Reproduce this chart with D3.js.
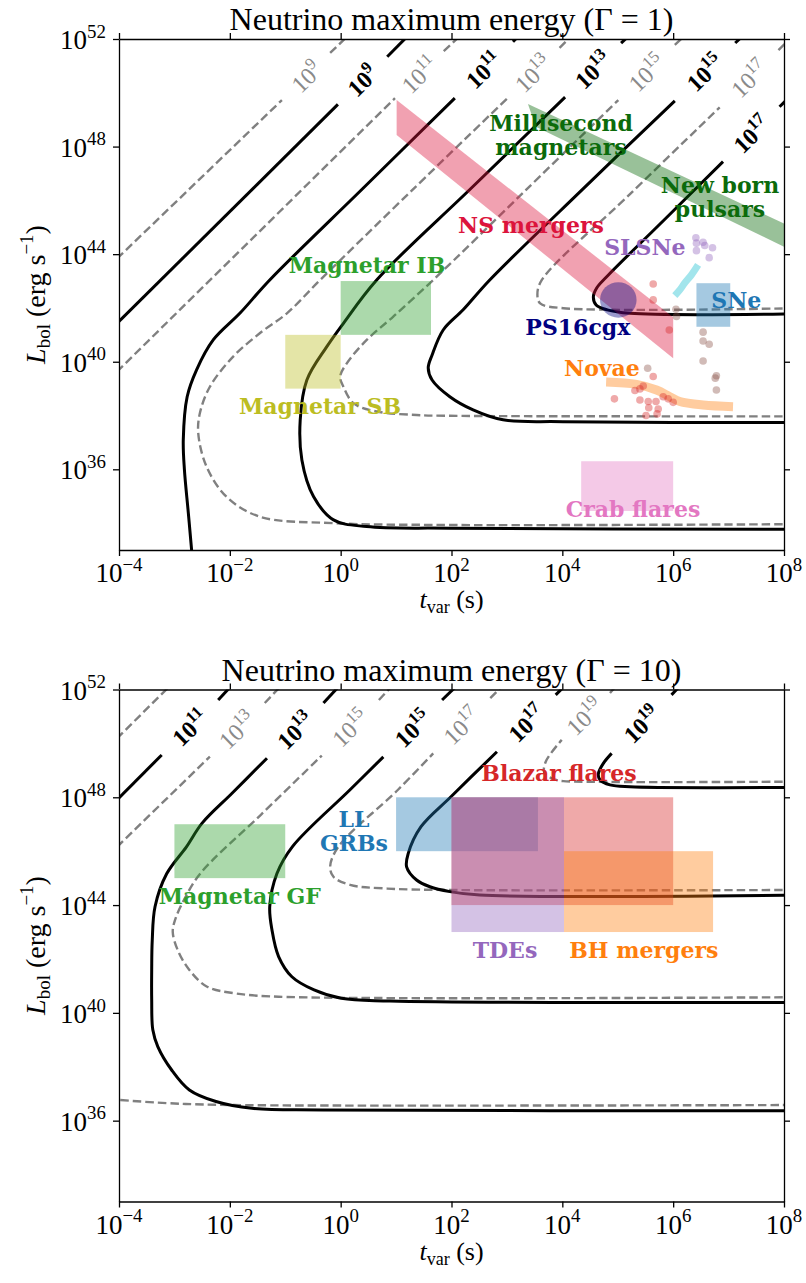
<!DOCTYPE html>
<meta charset="utf-8">
<script src="https://d3js.org/d3.v7.min.js"></script>
<style>
body { margin: 0; background: #fff; }
svg text { font-family: "Liberation Serif", "Times New Roman", serif; }
.region { font-family: "DejaVu Serif", serif; font-weight: bold; font-size: 22px; }
</style>
<div id="chart"></div>
<script>

// ---------- contour lines, points are [log10 t_var, log10 L_bol] ----------
// each contour is a list of segments (gaps are where the inline labels sit)

// panel 1 : Gamma = 1
var c1_gray9   = [[[-4.2, 43.51], [-1.06, 49.73]], [[-0.19, 51.48], [0.22, 52.3]]];
var c1_black9  = [[[-4.2, 41.09], [-0.05, 49.57]], [[0.84, 51.34], [1.3, 52.3]]];
var c1_gray11  = [[[-4.2, 39.3], [0.98, 49.8]], [[1.86, 51.55], [2.3, 52.4]]];
var c1_black11 = [[[-2.67, 32.5], [-2.69, 33], [-2.75, 34.4], [-2.82, 36], [-2.84, 37.1], [-2.77, 38.7], [-2.6, 39.7],
                   [-2.3, 40.81], [-1.82, 41.8], [-1.28, 43.04], [0.4, 46.44], [2.06, 49.8]],
                  [[3.11, 51.9], [3.35, 52.4]]];
var c1_gray13  = [[[8.2, 33.96], [1.97, 33.93], [-0.14, 34.0], [-1.46, 34.24], [-2.06, 34.98], [-2.42, 36.1],
                   [-2.57, 37.34], [-2.54, 38.09], [-2.36, 39.07], [-1.94, 40.19], [-1.46, 41.06], [-0.97, 41.8],
                   [-0.37, 43.04], [1.3, 46.4], [3.0, 49.78]],
                  [[3.95, 51.67], [4.3, 52.4]]];
var c1_black13 = [[[8.2, 33.77], [1.97, 33.81], [0.47, 33.87], [-0.13, 34.12], [-0.49, 34.99], [-0.7, 36.35],
                   [-0.73, 37.84], [-0.61, 39.32], [-0.25, 40.56], [0.05, 41.43], [0.65, 43.04], [2.35, 46.44], [4.05, 49.84]],
                  [[5.06, 51.85], [5.35, 52.4]]];
var c1_gray15  = [[[8.2, 37.97], [1.97, 37.99], [1.37, 38.02], [0.65, 38.15], [0.23, 38.46], [0.05, 39.07],
                   [-0.01, 39.45], [0.11, 39.94], [0.47, 40.81], [0.95, 41.68], [1.67, 43.04], [3.35, 46.4], [5.01, 49.73]],
                  [[6.03, 51.78], [6.35, 52.4]]];
var c1_black15 = [[[8.2, 37.74], [4.01, 37.77], [2.93, 37.84], [2.39, 38.21], [1.97, 38.7], [1.65, 39.32],
                   [1.58, 39.77], [1.65, 40.25], [1.85, 41.18], [2.21, 41.93], [2.69, 43.04], [4.36, 46.4], [6.03, 49.7]],
                  [[7.12, 51.85], [7.4, 52.4]]];
var c1_gray17  = [[[8.2, 41.99], [4.02, 41.99], [3.6, 42.17], [3.55, 42.5], [3.63, 43.04], [5.23, 46.25], [6.84, 49.46]],
                  [[7.9, 51.59], [8.2, 52.2]]];
var c1_black17 = [[[8.2, 41.78], [5.22, 41.8], [4.81, 41.93], [4.61, 42.11], [4.56, 42.41], [4.62, 42.74],
                   [4.8, 43.16], [5.85, 45.3], [6.9, 47.44]],
                  [[7.92, 49.48], [8.2, 50.05]]];

// inline labels: [exponent, gray?, log t, log L]
var c1_labels = [[9, 1, -0.62, 50.6], [9, 0, 0.39, 50.46], [11, 1, 1.42, 50.68], [11, 0, 2.58, 50.85],
                 [13, 1, 3.47, 50.72], [13, 0, 4.55, 50.85], [15, 1, 5.52, 50.75], [15, 0, 6.57, 50.76],
                 [17, 1, 7.37, 50.53], [17, 0, 7.41, 48.46]];

// panel 2 : Gamma = 10
var c2_gray11  = [[[-4.2, 49.85], [-3.0, 52.3]]];
var c2_black11 = [[[-4.2, 47.57], [-3.23, 49.57]], [[-2.21, 51.61], [-1.9, 52.3]]];
var c2_gray13  = [[[-4.2, 45.83], [-2.36, 49.51]], [[-1.37, 51.5], [-1.0, 52.3]],
                  [[-4.2, 36.8], [-3.13, 36.65], [-1.92, 36.58], [8.2, 36.58]]];
var c2_black13 = [[[8.2, 36.37], [-0.32, 36.4], [-1.6, 36.46], [-2.25, 36.71], [-2.73, 37.14], [-3.05, 37.88],
                   [-3.3, 38.75], [-3.39, 39.37], [-3.41, 40.48], [-3.41, 41.6], [-3.4, 42.7], [-3.35, 43.94],
                   [-3.14, 45.16], [-2.78, 46.17], [-2.5, 47.04], [-1.96, 48.15], [-1.33, 49.45]],
                  [[-0.31, 51.5], [0.05, 52.3]]];
var c2_gray15  = [[[8.2, 40.58], [-1.12, 40.6], [-1.92, 40.73], [-2.41, 40.97], [-2.73, 41.59], [-2.94, 42.33],
                   [-3.03, 43.0], [-2.98, 43.5], [-2.8, 44.3], [-2.53, 45.18], [-1.44, 47.35], [-0.34, 49.55]],
                  [[0.69, 51.61], [1.0, 52.3]]];
var c2_black15 = [[[8.2, 40.39], [0.89, 40.44], [0.01, 40.54], [-0.48, 40.85], [-0.88, 41.34], [-1.12, 42.09],
                   [-1.24, 43.08], [-1.28, 43.94], [-1.15, 45.17], [-0.87, 46.17], [0.16, 48.26], [0.77, 49.5]],
                  [[1.83, 51.61], [2.2, 52.35]]];
var c2_gray17  = [[[8.2, 44.56], [1.97, 44.56], [0.77, 44.62], [0.17, 44.75], [-0.13, 45.05], [-0.19, 45.43],
                   [-0.04, 46.17], [1.03, 48.27], [1.67, 49.63]],
                  [[2.7, 51.68], [3.0, 52.3]]];
var c2_black17 = [[[8.2, 44.37], [2.51, 44.37], [1.97, 44.5], [1.61, 44.68], [1.37, 44.93], [1.19, 45.42],
                   [1.22, 45.92], [1.45, 46.91], [1.99, 48.02], [2.82, 49.69]],
                  [[3.88, 51.8], [4.15, 52.35]]];
var c2_gray19  = [[[8.2, 48.58], [4.02, 48.6], [3.9, 48.64], [3.68, 48.89], [3.7, 49.32], [3.99, 50.13]],
                  [[4.86, 51.87], [5.0, 52.2]]];
var c2_black19 = [[[8.2, 48.37], [5.22, 48.39], [4.86, 48.46], [4.68, 48.64], [4.65, 48.87], [4.74, 49.26], [4.89, 49.63]],
                  [[5.97, 51.8], [6.2, 52.3]]];

var c2_labels = [[11, 0, -2.72, 50.59], [13, 1, -1.87, 50.5], [13, 0, -0.82, 50.48], [15, 1, 0.17, 50.58],
                 [15, 0, 1.3, 50.56], [17, 1, 2.18, 50.66], [17, 0, 3.35, 50.75], [19, 1, 4.4, 51.0],
                 [19, 0, 5.43, 50.72]];

// ---------- sources ----------
// boxes: [t0, t1, L0, L1] in log10
var box_magIB   = [0, 1.63, 41, 43];
var box_magSB   = [-1, 0, 39, 41];
var box_crab    = [4.34, 6, 34.45, 36.3];
var box_sne     = [6.42, 7.03, 41.3, 42.92];
var box_magGF   = [-3, -1, 45, 47];
var box_llgrb   = [1, 3.56, 46, 48];
var box_blazar  = [2, 6, 44, 48];
var box_tde     = [2, 4.03, 43, 48];
var box_bhm     = [4.03, 6.72, 43, 46];

// bands (polygons)
var band_nsm    = [[1.01, 49.73], [6.0, 41.65], [6.0, 40.13], [1.01, 48.43]];
var band_msm    = [[3.38, 49.58], [8.3, 44.85], [8.3, 43.98], [3.52, 48.74]];
// thick curves
var curve_slsne = [[6.03, 42.46], [6.12, 42.67], [6.21, 42.93], [6.33, 43.23], [6.45, 43.6]];
var curve_novae = [[4.79, 39.25], [5.34, 39.16], [5.7, 38.95], [5.94, 38.7], [6.12, 38.52], [6.54, 38.39], [7.08, 38.33]];
// PS16cgx ellipse: centre and half widths (decades)
var ell_ps16    = [5.01, 42.3, 0.33, 0.66];
// dots
var dots_slsne  = [[6.41, 44.61], [6.42, 44.41], [6.54, 44.44], [6.57, 44.32], [6.71, 44.24], [6.42, 44.13], [6.65, 43.87]];
var dots_red    = [[5.64, 42.89], [5.64, 42.3], [5.93, 41.18], [5.64, 39.45], [5.31, 38.93], [5.4, 38.99], [5.46, 39.1],
                   [4.94, 38.62], [5.4, 38.58], [5.55, 38.52], [5.69, 38.52], [5.82, 38.7], [5.91, 38.62], [6.0, 38.49],
                   [5.56, 38.29], [5.73, 38.24], [5.51, 38.0], [5.71, 38.06]];
var dots_brown  = [[5.54, 39.76], [6.05, 41.95], [6.06, 41.68], [6.54, 41.1], [6.54, 40.77], [6.65, 40.65],
                   [6.54, 40.03], [6.78, 39.48], [6.76, 39.39], [6.78, 38.95]];

// text labels: [lines, log t, log L (first baseline), colour, anchor]
var txt1 = [[["Millisecond", "magnetars"], 3.976, 48.58, "#0b6b0b", "middle"],
            [["New born", "pulsars"], 6.845, 46.26, "#0b6b0b", "middle"],
            [["NS mergers"], 3.434, 44.79, "#dc143c", "middle"],
            [["SLSNe"], 5.49, 43.97, "#9467bd", "middle"],
            [["Magnetar IB"], 0.475, 43.3, "#2ca02c", "middle"],
            [["SNe"], 6.688, 42.0, "#1f77b4", "start"],
            [["PS16cgx"], 4.28, 41.0, "#000080", "middle"],
            [["Novae"], 4.715, 39.47, "#ff7f0e", "middle"],
            [["Magnetar SB"], -0.373, 38.06, "#bcbd22", "middle"],
            [["Crab flares"], 5.275, 34.24, "#e377c2", "middle"]];
var txt2 = [[["Blazar flares"], 3.94, 48.6, "#d62728", "middle"],
            [["LL", "GRBs"], 0.24, 46.91, "#1f77b4", "middle"],
            [["Magnetar GF"], -1.82, 44.04, "#2ca02c", "middle"],
            [["TDEs"], 2.965, 42.04, "#9467bd", "middle"],
            [["BH mergers"], 5.47, 42.04, "#ff7f0e", "middle"]];

var xTicks = [-4, -2, 0, 2, 4, 6, 8];
var yTicks = [36, 40, 44, 48, 52];

// ---------- drawing ----------
var svg = d3.select("#chart").append("svg").attr("width", 806).attr("height", 1283);

var x = d3.scaleLog().domain([1e-4, 1e8]).range([119, 784]);
function tx(p) { return x(Math.pow(10, p)); }

function power(sel, exp, size) {
  sel.append("tspan").text("10");
  sel.append("tspan").attr("font-size", size * 0.7).attr("dy", -size * 0.42)
    .text(exp < 0 ? "\u2212" + (-exp) : exp);
}

function drawPanel(top, bottom, title, contours, labels, id) {
  var y = d3.scaleLog().domain([1e33, 1e52]).range([bottom, top]);
  function ty(p) { return y(Math.pow(10, p)); }

  svg.append("clipPath").attr("id", id).append("rect")
    .attr("x", 119).attr("y", top).attr("width", 665).attr("height", bottom - top);
  var g = svg.append("g").attr("clip-path", "url(#" + id + ")");

  var line = d3.line().x(function (d) { return tx(d[0]); }).y(function (d) { return ty(d[1]); })
    .curve(d3.curveCatmullRom.alpha(0.5));

  contours.forEach(function (c) {
    c[0].forEach(function (s) {
      g.append("path").attr("d", line(s)).attr("fill", "none")
        .attr("stroke", c[1] ? "#808080" : "#000")
        .attr("stroke-width", c[1] ? 2.4 : 3)
        .attr("stroke-dasharray", c[1] ? "8.5,4" : null);
    });
  });

  labels.forEach(function (l) {
    var t = g.append("text")
      .attr("transform", "translate(" + tx(l[2]) + "," + ty(l[3]) + ") rotate(-44)")
      .attr("y", 9).attr("text-anchor", "middle").attr("font-size", 24)
      .attr("fill", l[1] ? "#8a8a8a" : "#000")
      .attr("font-weight", l[1] ? "normal" : "bold");
    power(t, l[0], 24);
  });

  // axes frame and ticks
  var xa = svg.append("g").attr("transform", "translate(0," + bottom + ")")
    .call(d3.axisBottom(x).tickValues(xTicks.map(function (p) { return Math.pow(10, p); })).tickSize(6).tickSizeOuter(0).tickFormat(""));
  var xt = svg.append("g").attr("transform", "translate(0," + top + ")")
    .call(d3.axisTop(x).tickValues(xTicks.map(function (p) { return Math.pow(10, p); })).tickSize(6).tickSizeOuter(0).tickFormat(""));
  var ya = svg.append("g").attr("transform", "translate(119,0)")
    .call(d3.axisLeft(y).tickValues(yTicks.map(function (p) { return Math.pow(10, p); })).tickSize(6).tickSizeOuter(0).tickFormat(""));
  var yr = svg.append("g").attr("transform", "translate(784,0)")
    .call(d3.axisRight(y).tickValues(yTicks.map(function (p) { return Math.pow(10, p); })).tickSize(6).tickSizeOuter(0).tickFormat(""));
  [xa, xt, ya, yr].forEach(function (a) {
    a.selectAll("path, line").attr("stroke", "#000").attr("stroke-width", 1.3);
  });

  xTicks.forEach(function (p) {
    var t = svg.append("text").attr("x", tx(p)).attr("y", bottom + 32)
      .attr("text-anchor", "middle").attr("font-size", 27);
    power(t, p, 27);
  });
  yTicks.forEach(function (p) {
    var t = svg.append("text").attr("x", 106).attr("y", ty(p) + 10)
      .attr("text-anchor", "end").attr("font-size", 27);
    power(t, p, 27);
  });

  // axis titles
  var xl = svg.append("text").attr("x", 451.5).attr("y", bottom + 58)
    .attr("text-anchor", "middle").attr("font-size", 26);
  xl.append("tspan").attr("font-style", "italic").text("t");
  xl.append("tspan").attr("font-size", 18).attr("dy", 5).text("var");
  xl.append("tspan").attr("dy", -5).text(" (s)");

  var yl = svg.append("text")
    .attr("transform", "translate(45," + ((top + bottom) / 2) + ") rotate(-90)")
    .attr("text-anchor", "middle").attr("font-size", 28);
  yl.append("tspan").attr("font-style", "italic").text("L");
  yl.append("tspan").attr("font-size", 19).attr("dy", 5).text("bol");
  yl.append("tspan").attr("dy", -5).text(" (erg s");
  yl.append("tspan").attr("font-size", 19).attr("dy", -12).text("\u22121");
  yl.append("tspan").attr("dy", 12).text(")");

  svg.append("text").attr("x", 451.5).attr("y", top - 9)
    .attr("text-anchor", "middle").attr("font-size", 32).text(title);

  return { g: g, ty: ty, line: line };
}

function drawBox(g, ty, b, colour) {
  g.append("rect")
    .attr("x", tx(b[0])).attr("y", ty(b[3]))
    .attr("width", tx(b[1]) - tx(b[0])).attr("height", ty(b[2]) - ty(b[3]))
    .attr("fill", colour).attr("fill-opacity", 0.4);
}
function drawBand(g, ty, pts, colour) {
  g.append("path")
    .attr("d", d3.line().x(function (d) { return tx(d[0]); }).y(function (d) { return ty(d[1]); })(pts) + "Z")
    .attr("fill", colour).attr("fill-opacity", 0.4);
}
function drawDots(g, ty, pts, colour) {
  g.selectAll(null).data(pts).enter().append("circle")
    .attr("cx", function (d) { return tx(d[0]); }).attr("cy", function (d) { return ty(d[1]); })
    .attr("r", 3.8).attr("fill", colour).attr("fill-opacity", 0.4);
}
function drawText(ty, list) {
  list.forEach(function (l) {
    var t = svg.append("text").attr("class", "region")
      .attr("x", tx(l[1])).attr("y", ty(l[2]))
      .attr("text-anchor", l[4]).attr("fill", l[3]);
    l[0].forEach(function (s, i) {
      t.append("tspan").attr("x", tx(l[1])).attr("dy", i === 0 ? 0 : 24).text(s);
    });
  });
}

// ---------- panel 1 ----------
var p1 = drawPanel(39, 550, "Neutrino maximum energy (\u0393 = 1)",
  [[c1_gray9, 1], [c1_black9, 0], [c1_gray11, 1], [c1_black11, 0], [c1_gray13, 1], [c1_black13, 0],
   [c1_gray15, 1], [c1_black15, 0], [c1_gray17, 1], [c1_black17, 0]], c1_labels, "clip1");

drawBand(p1.g, p1.ty, band_nsm, "#dc143c");
drawBand(p1.g, p1.ty, band_msm, "#006400");
drawBox(p1.g, p1.ty, box_magIB, "#2ca02c");
drawBox(p1.g, p1.ty, box_magSB, "#bcbd22");
drawBox(p1.g, p1.ty, box_crab, "#e377c2");
drawBox(p1.g, p1.ty, box_sne, "#1f77b4");
p1.g.append("ellipse")
  .attr("cx", tx(ell_ps16[0])).attr("cy", p1.ty(ell_ps16[1]))
  .attr("rx", tx(ell_ps16[0] + ell_ps16[2]) - tx(ell_ps16[0]))
  .attr("ry", p1.ty(ell_ps16[1] - ell_ps16[3]) - p1.ty(ell_ps16[1]))
  .attr("fill", "#000080").attr("fill-opacity", 0.4);
p1.g.append("path").attr("d", p1.line(curve_slsne)).attr("fill", "none")
  .attr("stroke", "#17becf").attr("stroke-opacity", 0.4).attr("stroke-width", 7);
p1.g.append("path").attr("d", p1.line(curve_novae)).attr("fill", "none")
  .attr("stroke", "#ff7f0e").attr("stroke-opacity", 0.4).attr("stroke-width", 9);
drawDots(p1.g, p1.ty, dots_slsne, "#9467bd");
drawDots(p1.g, p1.ty, dots_red, "#d62728");
drawDots(p1.g, p1.ty, dots_brown, "#8c564b");
drawText(p1.ty, txt1);

// ---------- panel 2 ----------
var p2 = drawPanel(689.5, 1201.5, "Neutrino maximum energy (\u0393 = 10)",
  [[c2_gray11, 1], [c2_black11, 0], [c2_gray13, 1], [c2_black13, 0], [c2_gray15, 1], [c2_black15, 0],
   [c2_gray17, 1], [c2_black17, 0], [c2_gray19, 1], [c2_black19, 0]], c2_labels, "clip2");

drawBox(p2.g, p2.ty, box_magGF, "#2ca02c");
drawBox(p2.g, p2.ty, box_llgrb, "#1f77b4");
drawBox(p2.g, p2.ty, box_blazar, "#d62728");
drawBox(p2.g, p2.ty, box_tde, "#9467bd");
drawBox(p2.g, p2.ty, box_bhm, "#ff7f0e");
drawText(p2.ty, txt2);

</script>
